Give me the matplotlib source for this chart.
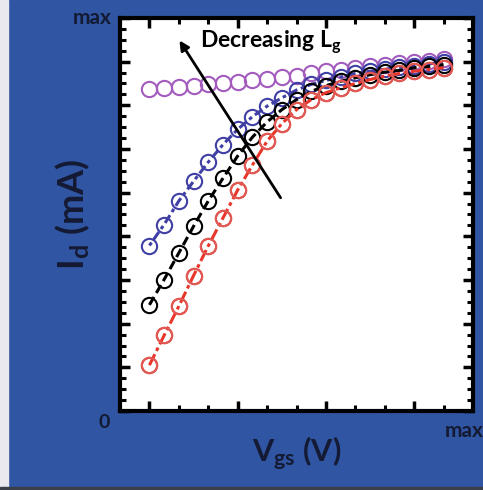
import matplotlib.pyplot as plt
import matplotlib.patches as patches
from matplotlib.ticker import MultipleLocator, AutoMinorLocator

plt.rcParams['font.family'] = ['Lato', 'DejaVu Sans']
plt.rcParams['mathtext.default'] = 'regular'

# Vgs sweep (arbitrary units, 0 .. max)
vgs = [0.10, 0.15, 0.20, 0.25, 0.30, 0.35, 0.40, 0.45, 0.50, 0.55, 0.60,
       0.65, 0.70, 0.75, 0.80, 0.85, 0.90, 0.95, 1.00, 1.05, 1.10]

# Id curves, longest gate first
id_red = [1.05, 1.73, 2.40, 3.10, 3.78, 4.42, 5.06, 5.63, 6.18, 6.58, 6.90,
          7.13, 7.29, 7.40, 7.50, 7.59, 7.67, 7.73, 7.78, 7.82, 7.86]
id_black = [2.43, 3.01, 3.62, 4.23, 4.81, 5.33, 5.84, 6.27, 6.62, 6.90, 7.13,
            7.32, 7.45, 7.55, 7.63, 7.70, 7.76, 7.80, 7.86, 7.89, 7.93]
id_blue = [3.79, 4.27, 4.81, 5.26, 5.70, 6.10, 6.45, 6.74, 6.98, 7.17, 7.35,
           7.48, 7.57, 7.65, 7.73, 7.78, 7.83, 7.87, 7.91, 7.95, 7.99]
id_purple = [7.38, 7.40, 7.42, 7.45, 7.48, 7.51, 7.54, 7.57, 7.60, 7.64, 7.68,
             7.73, 7.78, 7.82, 7.86, 7.89, 7.93, 7.97, 7.99, 8.02, 8.05]

bg = '#2f55a3'
txt = '#141a33'

fig = plt.figure(figsize=(4.83, 4.90), dpi=100, facecolor=bg)
# screenshot edges
fig.patches.append(patches.Rectangle((0, 0), 8 / 483, 1, transform=fig.transFigure,
                                     color='#e8e8ee', zorder=0))
fig.patches.append(patches.Rectangle((0, 0), 1, 3 / 490, transform=fig.transFigure,
                                     color='#3a3f4a', zorder=0))

ax = fig.add_axes([120 / 483, 79 / 490, 353 / 483, 393 / 490])
ax.set_facecolor('white')

mk = dict(marker='o', mfc='none', ms=11, mew=1.5, lw=2.2)
ax.plot(vgs, id_purple, color='#a35bbd', lw=0, marker='o', mfc='none', ms=11, mew=1.5)
ax.plot(vgs, id_blue, color='#3f3fa5', ls=(0, (1.2, 1.2, 3, 1.2)), **mk)
ax.plot(vgs, id_black, color='black', ls=(0, (3, 1.5)), **mk)
ax.plot(vgs, id_red, color='#e8362b', ls=(0, (4, 1.2, 1.2, 1.2)), **mk)
# lighter red rings on top
ax.plot(vgs, id_red, color='#e05a55', ls='none', marker='o', mfc='none', ms=11, mew=1.5)

ax.set_xlim(0, 1.2)
ax.set_ylim(0, 9)

ax.set_xticks([0.1, 0.4, 0.7, 1.0])
ax.xaxis.set_minor_locator(MultipleLocator(0.1))
ax.yaxis.set_major_locator(MultipleLocator(1))
ax.yaxis.set_minor_locator(AutoMinorLocator(4))
ax.tick_params(which='both', direction='in', top=True, right=True,
               labelbottom=False, labelleft=False, color='black')
ax.tick_params(which='major', length=7, width=2.5)
ax.tick_params(which='minor', length=4, width=2.2)
for s in ax.spines.values():
    s.set_linewidth(3)
    s.set_color('black')

# axis end labels
ax.text(-0.025, 1.0, 'max', transform=ax.transAxes, ha='right', va='center',
        fontsize=15, fontweight='bold', color=txt)
ax.text(-0.03, -0.03, '0', transform=ax.transAxes, ha='right', va='center',
        fontsize=14, fontweight='bold', color=txt)
ax.text(0.92, -0.05, 'max', transform=ax.transAxes, ha='left', va='center',
        fontsize=15, fontweight='bold', color=txt, clip_on=False)

ax.set_xlabel('V$_{gs}$ (V)', fontsize=22, fontweight='bold', color=txt, labelpad=17)
ax.set_ylabel('I$_{d}$ (mA)', fontsize=26, fontweight='bold', color=txt, labelpad=20)

ax.annotate('', xy=(0.197, 8.54), xytext=(0.551, 4.83),
            arrowprops=dict(arrowstyle='-|>', color='black', lw=2, mutation_scale=14))
ax.text(0.272, 8.45, 'Decreasing L$_{g}$', fontsize=16.5, fontweight='bold',
        color='black', ha='left', va='center')

fig.savefig('out.png', dpi=100, facecolor=bg)
